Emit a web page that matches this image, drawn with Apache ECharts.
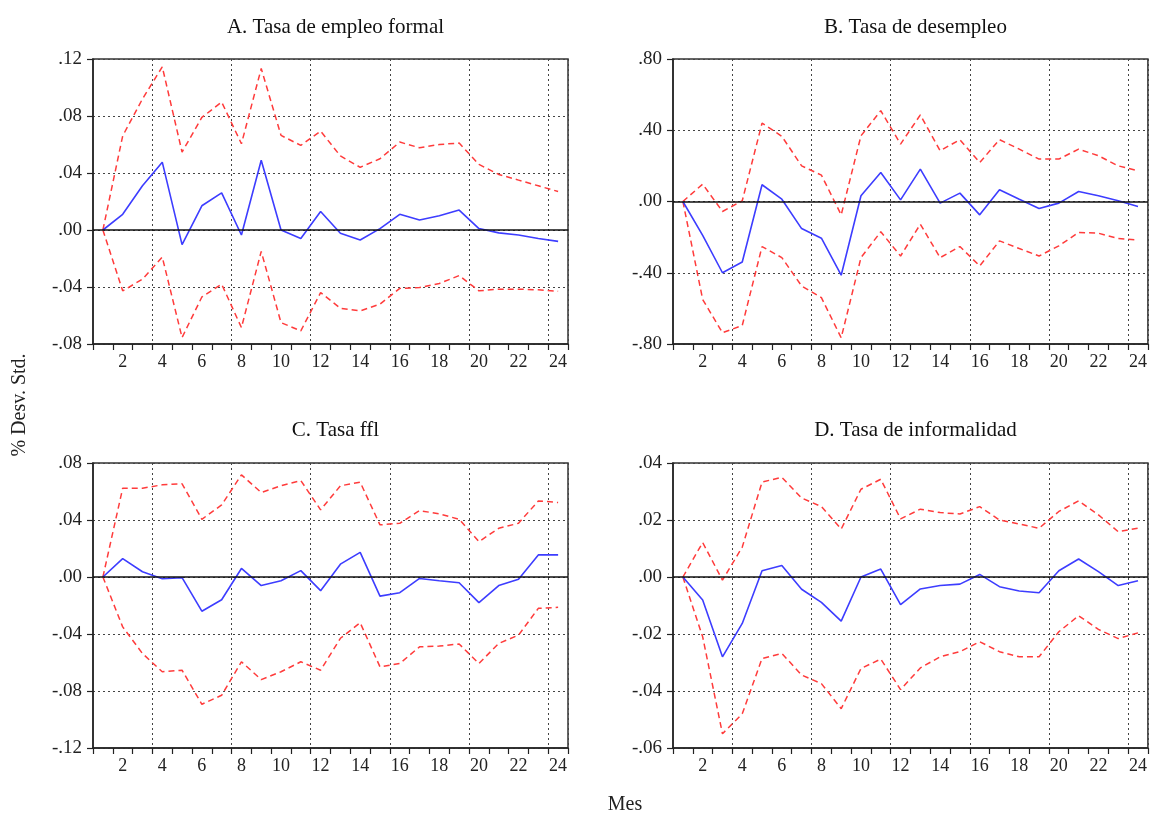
<!DOCTYPE html>
<html>
<head>
<meta charset="utf-8">
<script src="https://cdn.jsdelivr.net/npm/echarts@6/dist/echarts.min.js"></script>
<style>
html,body{margin:0;padding:0;background:#fff;}
#chart{width:1150px;height:817px;}
</style>
</head>
<body>
<div id="chart"></div>
<script>
const months = ['1','2','3','4','5','6','7','8','9','10','11','12','13','14','15','16','17','18','19','20','21','22','23','24'];

const panelTitles = ['A. Tasa de empleo formal', 'B. Tasa de desempleo', 'C. Tasa ffl', 'D. Tasa de informalidad'];

const formalIRF   = [0, 0.011, 0.031, 0.0476, -0.0103, 0.017, 0.026, -0.0035, 0.049, 0.000, -0.006, 0.013, -0.0023, -0.007, 0.001, 0.011, 0.007, 0.010, 0.014, 0.001, -0.002, -0.0035, -0.006, -0.008];
const formalUpper = [0, 0.066, 0.092, 0.1145, 0.0547, 0.079, 0.0898, 0.0605, 0.1133, 0.0664, 0.0594, 0.0694, 0.052, 0.044, 0.050, 0.0617, 0.0577, 0.060, 0.061, 0.046, 0.039, 0.035, 0.031, 0.027];
const formalLower = [0, -0.0427, -0.0345, -0.019, -0.0755, -0.047, -0.038, -0.0685, -0.015, -0.065, -0.0708, -0.0439, -0.055, -0.0568, -0.052, -0.041, -0.0404, -0.0375, -0.032, -0.0427, -0.0415, -0.0415, -0.042, -0.043];

const desempIRF   = [0, -0.19, -0.40, -0.34, 0.094, 0.013, -0.152, -0.206, -0.414, 0.032, 0.163, 0.009, 0.182, -0.009, 0.047, -0.075, 0.066, 0.013, -0.039, -0.009, 0.056, 0.032, 0.004, -0.028];
const desempUpper = [0, 0.0975, -0.056, 0.004, 0.44, 0.366, 0.20, 0.148, -0.075, 0.369, 0.51, 0.3225, 0.486, 0.285, 0.347, 0.219, 0.347, 0.294, 0.238, 0.238, 0.294, 0.257, 0.20, 0.1725];
const desempLower = [0, -0.55, -0.737, -0.696, -0.253, -0.315, -0.474, -0.54, -0.765, -0.315, -0.17, -0.306, -0.1275, -0.315, -0.253, -0.362, -0.221, -0.264, -0.306, -0.249, -0.174, -0.178, -0.208, -0.216];

const fflIRF   = [0, 0.0129, 0.0037, -0.0012, -0.0005, -0.024, -0.016, 0.006, -0.006, -0.0026, 0.0045, -0.0096, 0.009, 0.0173, -0.0134, -0.011, -0.001, -0.0026, -0.004, -0.018, -0.006, -0.0016, 0.0155, 0.0155];
const fflUpper = [0, 0.0623, 0.0623, 0.0647, 0.0654, 0.0405, 0.0506, 0.0717, 0.0593, 0.064, 0.0677, 0.0471, 0.064, 0.0665, 0.0366, 0.0377, 0.0466, 0.0443, 0.0405, 0.0248, 0.0342, 0.0377, 0.0534, 0.0523];
const fflLower = [0, -0.035, -0.0537, -0.0665, -0.0654, -0.0893, -0.083, -0.0595, -0.072, -0.0665, -0.0595, -0.0654, -0.043, -0.0321, -0.063, -0.0607, -0.049, -0.0485, -0.047, -0.0607, -0.0466, -0.0408, -0.022, -0.0213];

const informIRF   = [0, -0.0081, -0.028, -0.0163, 0.0022, 0.004, -0.0043, -0.0089, -0.0155, 0, 0.0028, -0.0097, -0.0042, -0.003, -0.0025, 0.0009, -0.0034, -0.0049, -0.0055, 0.0022, 0.0063, 0.0019, -0.003, -0.0013];
const informUpper = [0, 0.0121, -0.0011, 0.0105, 0.0333, 0.035, 0.0277, 0.0247, 0.0168, 0.0308, 0.0343, 0.0204, 0.0238, 0.0226, 0.0221, 0.0247, 0.020, 0.0186, 0.0171, 0.023, 0.0267, 0.0218, 0.0159, 0.0171];
const informLower = [0, -0.021, -0.055, -0.048, -0.0286, -0.0268, -0.0344, -0.0374, -0.0462, -0.0321, -0.0288, -0.0395, -0.0319, -0.028, -0.0262, -0.0227, -0.0262, -0.028, -0.028, -0.0192, -0.0136, -0.0184, -0.0216, -0.0196];

const yMins = [-0.08, -0.8, -0.12, -0.06];
const yMaxs = [0.12, 0.8, 0.08, 0.04];
const yIntervals = [0.04, 0.4, 0.04, 0.02];

const panels = [
  [formalIRF, formalUpper, formalLower],
  [desempIRF, desempUpper, desempLower],
  [fflIRF, fflUpper, fflLower],
  [informIRF, informUpper, informLower]
];

const FONT = '"Liberation Serif", "Times New Roman", serif';
const gridPos = [
  {left: 93, top: 59},
  {left: 673, top: 59},
  {left: 93, top: 463},
  {left: 673, top: 463}
];
const GW = 475, GH = 285;

function fmtY(v) {
  const r = Math.round(v * 100) / 100;
  const s = Math.abs(r).toFixed(2).replace(/^0/, '');
  return (r < 0 ? '-' : '') + s;
}

const grids = [], xAxes = [], yAxes = [], series = [], titles = [];
for (let p = 0; p < 4; p++) {
  grids.push({left: gridPos[p].left, top: gridPos[p].top, width: GW, height: GH,
    show: true, borderColor: '#333', borderWidth: 1.5, backgroundColor: 'transparent'});
  titles.push({text: panelTitles[p], left: gridPos[p].left + GW / 2, top: (p < 2 ? 12 : 415),
    textAlign: 'center',
    textStyle: {fontFamily: FONT, fontSize: 21, fontWeight: 'normal', color: '#111'}});
  xAxes.push({
    type: 'category', gridIndex: p, data: months, boundaryGap: true,
    axisLine: {show: true, onZero: false, lineStyle: {color: '#222', width: 1.5}},
    axisTick: {show: true, interval: 0, length: 6, inside: false, lineStyle: {color: '#222', width: 1.2}},
    axisLabel: {interval: function (i) { return i % 2 === 1; }, fontFamily: FONT, fontSize: 18, color: '#222', margin: 9},
    splitLine: {show: true, interval: function (i) { return i % 4 === 3; },
      lineStyle: {color: '#444', type: [2, 3], width: 1}}
  });
  yAxes.push({
    type: 'value', gridIndex: p, min: yMins[p], max: yMaxs[p], interval: yIntervals[p],
    axisLine: {show: true, lineStyle: {color: '#222', width: 1.5}},
    axisTick: {show: true, length: 6, lineStyle: {color: '#222', width: 1.2}},
    axisLabel: {formatter: fmtY, fontFamily: FONT, fontSize: 19, color: '#222', margin: 11},
    splitLine: {show: true, lineStyle: {color: '#444', type: [2, 3], width: 1}}
  });
  const [irf, up, lo] = panels[p];
  series.push({type: 'line', xAxisIndex: p, yAxisIndex: p, data: up, symbol: 'none', silent: true,
    lineStyle: {color: '#ff3b3b', width: 1.5, type: [6, 4]}, z: 3});
  series.push({type: 'line', xAxisIndex: p, yAxisIndex: p, data: lo, symbol: 'none', silent: true,
    lineStyle: {color: '#ff3b3b', width: 1.5, type: [6, 4]}, z: 3});
  series.push({type: 'line', xAxisIndex: p, yAxisIndex: p, data: irf, symbol: 'none', silent: true,
    lineStyle: {color: '#3d3dff', width: 1.6}, z: 4,
    markLine: {silent: true, symbol: 'none', label: {show: false},
      lineStyle: {color: '#111', width: 1.5, type: 'solid'}, data: [{yAxis: 0}]}});
}

const chart = echarts.init(document.getElementById('chart'), null, {renderer: 'canvas'});
chart.setOption({
  animation: false,
  backgroundColor: '#fff',
  title: titles,
  grid: grids,
  xAxis: xAxes,
  yAxis: yAxes,
  series: series,
  graphic: [
    {type: 'text', x: 20, y: 405, rotation: Math.PI / 2,
      style: {text: '% Desv. Std.', fontFamily: FONT, fontSize: 20, fill: '#222', textAlign: 'center', textVerticalAlign: 'middle'}},
    {type: 'text', x: 625, y: 805,
      style: {text: 'Mes', fontFamily: FONT, fontSize: 20, fill: '#222', textAlign: 'center', textVerticalAlign: 'middle'}}
  ]
});
</script>
</body>
</html>
